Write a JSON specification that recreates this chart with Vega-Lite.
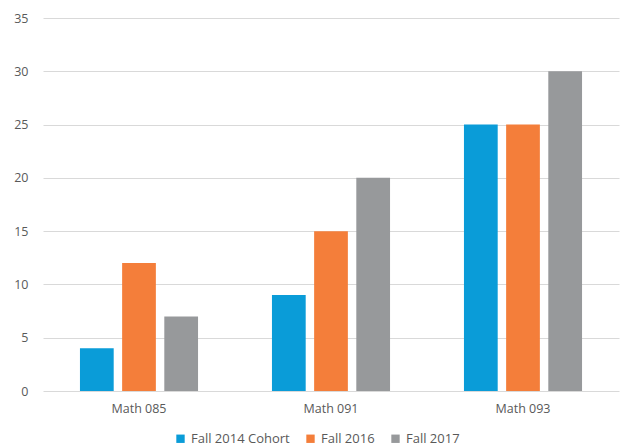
{
  "$schema": "https://vega.github.io/schema/vega-lite/v6.json",
  "description": "Grouped bars for three math courses by cohort.",
  "width": 576,
  "height": 373,
  "autosize": {"type": "none"},
  "padding": {"left": 43, "top": 18, "right": 7, "bottom": 56},
  "background": "white",
  "config": {
    "view": {"stroke": null},
    "font": "Open Sans",
    "axis": {"labelColor": "#595959", "labelFontSize": 12.5, "titleColor": "#595959"},
    "legend": {"labelColor": "#595959", "labelFontSize": 13}
  },
  "data": {
    "values": [
      {"course": "Math 085", "cohort": "Fall 2014 Cohort", "value": 4},
      {"course": "Math 085", "cohort": "Fall 2016", "value": 12},
      {"course": "Math 085", "cohort": "Fall 2017", "value": 7},
      {"course": "Math 091", "cohort": "Fall 2014 Cohort", "value": 9},
      {"course": "Math 091", "cohort": "Fall 2016", "value": 15},
      {"course": "Math 091", "cohort": "Fall 2017", "value": 20},
      {"course": "Math 093", "cohort": "Fall 2014 Cohort", "value": 25},
      {"course": "Math 093", "cohort": "Fall 2016", "value": 25},
      {"course": "Math 093", "cohort": "Fall 2017", "value": 30}
    ]
  },
  "mark": {"type": "bar"},
  "encoding": {
    "x": {
      "field": "course",
      "type": "nominal",
      "title": null,
      "scale": {"paddingInner": 0.385, "paddingOuter": 0.1925},
      "axis": {"labelAngle": 0, "domain": false, "ticks": false, "labelPadding": 11}
    },
    "xOffset": {
      "field": "cohort",
      "type": "nominal",
      "scale": {"paddingInner": 0.2, "paddingOuter": 0}
    },
    "y": {
      "field": "value",
      "type": "quantitative",
      "title": null,
      "scale": {"domain": [0, 35], "nice": false},
      "axis": {
        "values": [0, 5, 10, 15, 20, 25, 30, 35],
        "domain": false,
        "ticks": false,
        "labelPadding": 15,
        "gridColor": "#d9d9d9",
        "gridWidth": 1
      }
    },
    "color": {
      "field": "cohort",
      "type": "nominal",
      "title": null,
      "scale": {
        "domain": ["Fall 2014 Cohort", "Fall 2016", "Fall 2017"],
        "range": ["#0a9cd8", "#f47e3a", "#97999b"]
      },
      "legend": {
        "orient": "none",
        "legendX": 131,
        "legendY": 414,
        "direction": "horizontal",
        "symbolType": "square",
        "symbolSize": 70,
        "symbolStrokeWidth": 0,
        "labelOffset": 4,
        "columnPadding": 14
      }
    }
  }
}
